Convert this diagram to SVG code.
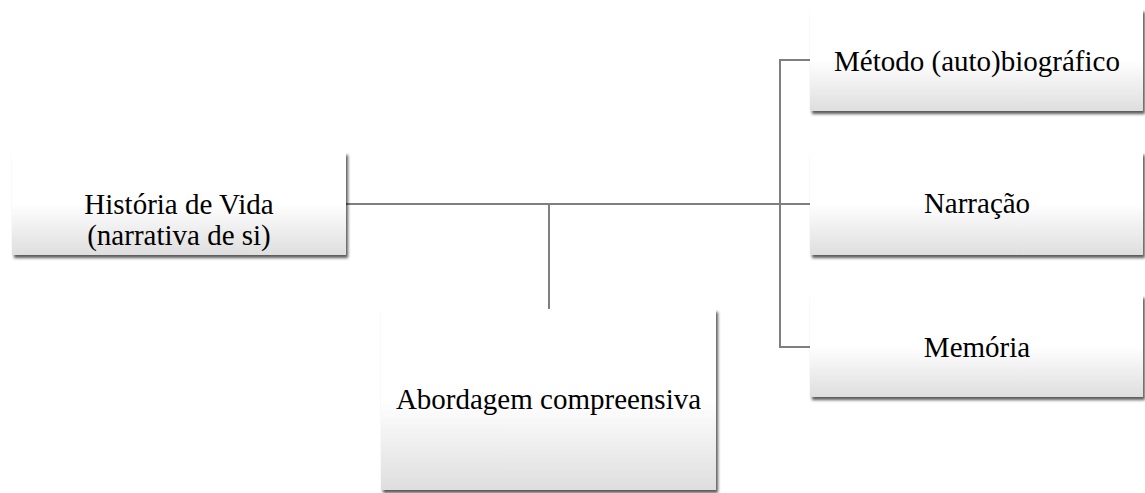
<svg xmlns="http://www.w3.org/2000/svg" width="1145" height="493" viewBox="0 0 1145 493">
<defs>
<linearGradient id="g" x1="0" y1="0" x2="0" y2="1">
<stop offset="0" stop-color="#ffffff"/>
<stop offset="0.5" stop-color="#ffffff"/>
<stop offset="1" stop-color="#dedede"/>
</linearGradient>
<filter id="sh" x="-5%" y="-10%" width="115%" height="130%">
<feDropShadow dx="2" dy="3" stdDeviation="1.8" flood-color="#000" flood-opacity="0.65"/>
</filter>
</defs>
<style>
.box{fill:url(#g);filter:url(#sh);}
.t{font-family:"Liberation Serif","Times New Roman",serif;font-size:29px;fill:#000;text-anchor:middle;}
.c{fill:none;stroke:#7f7f7f;stroke-width:2;}
</style>
<rect width="1145" height="493" fill="#fff"/>
<g id="connectors">
<path class="c" d="M346 204 H810"/>
<path class="c" d="M549 204 V309"/>
<path class="c" d="M810 60 H780 V347 H810"/>
</g>
<g id="historia">
<rect class="box" x="12" y="152" width="334" height="103"/>
<text class="t" x="179" y="214">História de Vida</text>
<text class="t" x="179" y="245">(narrativa de si)</text>
</g>
<g id="abordagem">
<rect class="box" x="381" y="309" width="335" height="181"/>
<text class="t" x="548.5" y="409">Abordagem compreensiva</text>
</g>
<g id="metodo">
<rect class="box" x="810" y="9" width="333" height="102"/>
<text class="t" x="977" y="71">Método (auto)biográfico</text>
</g>
<g id="narracao">
<rect class="box" x="810" y="152" width="333" height="103"/>
<text class="t" x="977" y="213">Narração</text>
</g>
<g id="memoria">
<rect class="box" x="810" y="295" width="333" height="102"/>
<text class="t" x="977" y="357">Memória</text>
</g>
</svg>
